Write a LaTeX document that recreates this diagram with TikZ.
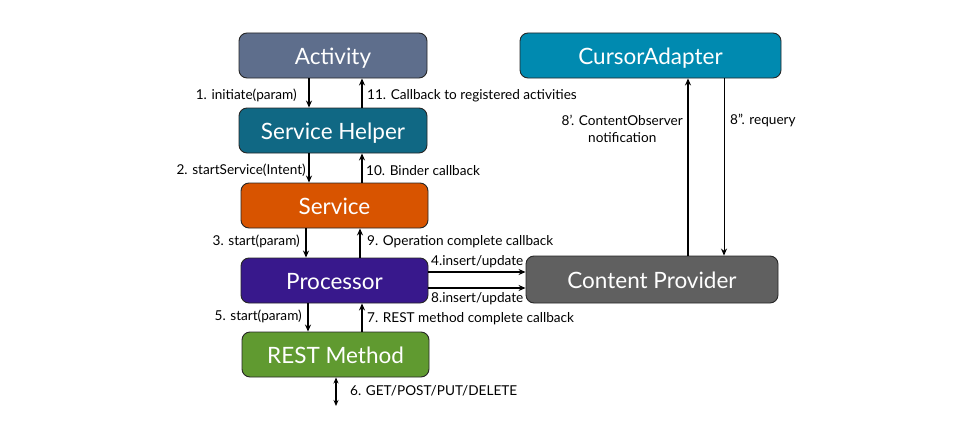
\documentclass[tikz,border=0pt]{standalone}
\usepackage{fontspec}
\setmainfont{Lato}
\usetikzlibrary{arrows.meta}
\definecolor{cAct}{RGB}{94,110,140}
\definecolor{cSH}{RGB}{16,104,132}
\definecolor{cSv}{RGB}{216,84,0}
\definecolor{cPr}{RGB}{56,24,140}
\definecolor{cRM}{RGB}{96,154,48}
\definecolor{cCA}{RGB}{0,138,176}
\definecolor{cCP}{RGB}{96,96,96}
\tikzset{
  box/.style={draw=black!85, line width=0.9pt, rounded corners=8pt, minimum height=45pt, text=white, font=\fontsize{22.5}{26}\selectfont, inner sep=0pt, text height=17pt, text depth=-1pt},
  lbl/.style={font=\fontsize{13.6}{17}\selectfont, inner sep=0pt, text=black},
  arr/.style={-{Stealth[length=7pt,width=6pt]}, line width=1.6pt},
  tarr/.style={-{Stealth[length=7pt,width=6pt]}, line width=0.9pt},
}
\begin{document}
\begin{tikzpicture}[x=1pt,y=-1pt]
\useasboundingbox (0,0) rectangle (979,420);
\node[box, fill=cAct, minimum width=188pt] (act) at (333,55.5) {Activity};
\node[box, fill=cSH, minimum width=188pt] (sh) at (333,130.5) {Service Helper};
\node[box, fill=cSv, minimum width=187pt] (sv) at (334.5,205.5) {Service};
\node[box, fill=cPr, minimum width=187pt] (pr) at (334.5,280.5) {Processor};
\node[box, fill=cRM, minimum width=187pt] (rm) at (335.5,354.5) {REST Method};
\node[box, fill=cCA, minimum width=261pt] (ca) at (650.5,55.5) {CursorAdapter};
\node[box, fill=cCP, minimum width=252pt, minimum height=47pt] (cp) at (652,279.5) {Content Provider};
\coordinate (net) at (336,406);

% Activity <-> Service Helper
\draw[arr] ([xshift=-24pt]act.south) -- ([xshift=-24pt]sh.north);
\draw[arr] ([xshift=29pt]sh.north) -- ([xshift=29pt]act.south);
\node[lbl, anchor=east] (l1) at (297,95) {1. initiate(param)};
\node[lbl, anchor=west] (l11) at (367,96) {11. Callback to registered activities};

% Service Helper <-> Service
\draw[arr] ([xshift=-24pt]sh.south) -- ([xshift=-25.5pt]sv.north);
\draw[arr] ([xshift=27.5pt]sv.north) -- ([xshift=29pt]sh.south);
\node[lbl, anchor=east] (l2) at (306,170) {2. startService(Intent)};
\node[lbl, anchor=west] (l10) at (366,171) {10. Binder callback};

% Service <-> Processor
\draw[arr] ([xshift=-28.5pt]sv.south) -- ([xshift=-28.5pt]pr.north);
\draw[arr] ([xshift=25.5pt]pr.north) -- ([xshift=25.5pt]sv.south);
\node[lbl, anchor=east] (l3) at (300,241) {3. start(param)};
\node[lbl, anchor=west] (l9) at (367,242) {9. Operation complete callback};

% Processor -> Content Provider
\draw[arr] (pr.east |- 0,272) -- (cp.west |- 0,272);
\draw[arr] (pr.east |- 0,288) -- (cp.west |- 0,288);
\node[lbl, anchor=west] (l4) at (431,262) {4.insert/update};
\node[lbl, anchor=west] (l8) at (431,299) {8.insert/update};

% Processor <-> REST Method
\draw[arr] ([xshift=-26.5pt]pr.south) -- ([xshift=-27.5pt]rm.north);
\draw[arr] ([xshift=26.5pt]rm.north) -- ([xshift=27.5pt]pr.south);
\node[lbl, anchor=east] (l5) at (302,316) {5. start(param)};
\node[lbl, anchor=west] (l7) at (367,319) {7. REST method complete callback};

% REST network
\draw[{Stealth[length=6pt,width=5pt]}-{Stealth[length=6pt,width=5pt]}, line width=1.3pt] (rm.south -| net) -- (net);
\node[lbl, anchor=west] (l6) at (350,391) {6. GET/POST/PUT/DELETE};

% Content Provider <-> CursorAdapter
\draw[arr] (cp.north -| 688,0) -- (ca.south -| 688,0);
\draw[tarr] (ca.south -| 724,0) -- (cp.north -| 724,0);
\node[lbl, anchor=east, align=center] (l8a) at (683,128.5) {8'. ContentObserver\\notification};
\node[lbl, anchor=west] (l8b) at (730,120) {8''. requery};
\end{tikzpicture}
\end{document}
